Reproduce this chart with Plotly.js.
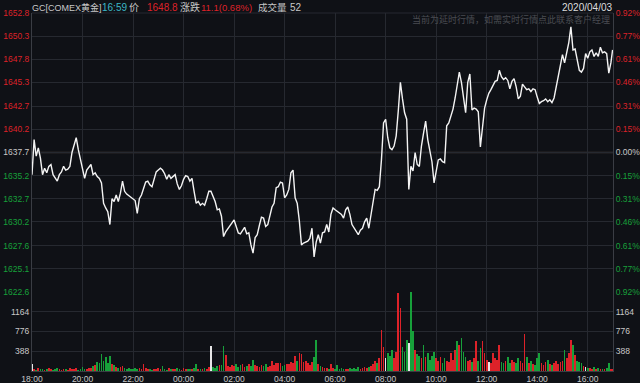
<!DOCTYPE html>
<html>
<head>
<meta charset="utf-8">
<script src="https://cdn.plot.ly/plotly-3.0.1.min.js"></script>
<style>
html,body{margin:0;padding:0;background:#0f1116;}
#chart{width:640px;height:383px;}
</style>
</head>
<body>
<div id="chart"></div>
<script>
// ---------- data ----------
const symbolName = 'GC[COMEX黄金]';
const quoteTime = '16:59';
const lastPrice = 1648.8;
const changeText = '11.1(0.68%)';
const lastVolume = 52;
const tradeDate = '2020/04/03';
const noticeText = '当前为延时行情，如需实时行情点此联系客户经理';
const prevClose = 1637.7;

const timeLabels = ['18:00','20:00','22:00','00:00','02:00','04:00','06:00','08:00','10:00','12:00','14:00','16:00'];
const priceTickLabels = ['1652.8','1650.3','1647.8','1645.3','1642.7','1640.2','1637.7','1635.2','1632.7','1630.2','1627.6','1625.1','1622.6'];
const pctTickLabels = ['0.92%','0.77%','0.61%','0.46%','0.31%','0.15%','0.00%','0.15%','0.31%','0.46%','0.61%','0.77%','0.92%'];
const volTickLabels = ['388','776','1164'];
const volMax = 1552;

// price sampled every 5 minutes from 18:00
const stepMinutes = 5;
const price = [
1635.3,1639.1,1637.3,1638.2,1637.1,1635.3,1636.0,1635.5,1636.2,1636.4,
1635.3,1634.9,1634.6,1635.3,1635.6,1636.2,1635.8,1635.9,1636.2,1637.7,
1638.4,1639.3,1638.0,1636.9,1636.2,1634.9,1635.8,1636.1,1636.4,1635.3,
1635.5,1635.1,1634.9,1634.4,1632.2,1631.7,1631.3,1629.9,1632.7,1632.4,
1633.1,1632.4,1633.3,1634.6,1633.5,1633.2,1633.0,1632.8,1632.7,1632.5,
1631.1,1632.7,1633.1,1633.7,1634.5,1634.6,1634.2,1634.0,1634.8,1635.6,
1635.8,1636.0,1635.8,1635.4,1634.8,1635.3,1634.9,1635.1,1635.3,1634.3,
1633.7,1634.1,1634.8,1635.2,1635.1,1634.6,1634.9,1633.5,1632.2,1632.4,
1632.0,1632.2,1632.0,1632.7,1633.5,1633.5,1633.0,1632.4,1631.5,1631.6,
1630.8,1628.6,1629.1,1629.4,1629.7,1630.1,1630.4,1629.7,1629.0,1628.9,
1629.3,1629.6,1628.9,1629.0,1627.7,1626.8,1628.5,1628.8,1629.8,1630.7,
1630.6,1629.7,1629.9,1630.9,1631.8,1632.2,1633.9,1634.0,1634.5,1634.4,
1632.8,1633.1,1633.7,1635.5,1635.8,1632.8,1632.2,1630.3,1627.7,1627.9,
1628.0,1628.1,1628.4,1629.5,1626.4,1628.0,1628.8,1627.9,1629.0,1629.1,
1629.9,1629.1,1631.0,1631.7,1631.5,1631.3,1631.1,1631.0,1630.6,1631.5,
1631.8,1631.0,1629.9,1629.5,1629.1,1628.8,1629.3,1629.5,1630.2,1630.6,
1629.5,1631.0,1632.6,1633.7,1633.6,1634.0,1636.9,1640.9,1641.3,1639.3,
1638.2,1638.0,1638.4,1639.5,1642.2,1645.3,1643.5,1642.0,1641.3,1633.7,
1636.2,1635.7,1637.7,1636.4,1636.2,1638.4,1639.8,1641.1,1639.1,1637.7,
1636.7,1634.4,1635.7,1636.9,1637.0,1636.7,1636.6,1640.6,1640.9,1641.7,
1642.4,1643.6,1644.9,1646.4,1645.3,1643.5,1642.0,1645.3,1646.2,1642.3,
1642.5,1642.4,1642.1,1638.3,1640.8,1642.5,1643.4,1644.1,1644.5,1644.9,
1645.4,1645.5,1646.6,1645.9,1645.6,1645.8,1645.5,1644.6,1645.4,1645.7,
1644.8,1643.5,1643.8,1645.1,1644.8,1644.5,1644.6,1644.3,1644.6,1644.5,
1643.7,1643.0,1643.2,1643.3,1643.5,1643.2,1643.4,1643.1,1643.6,1644.8,
1646.1,1647.4,1648.3,1647.4,1648.4,1649.6,1651.3,1648.8,1648.9,1647.7,
1646.6,1646.4,1646.8,1648.4,1647.9,1648.6,1648.8,1648.1,1648.5,1648.1,
1649.1,1648.5,1648.6,1648.4,1646.3,1647.4,1648.8
];

const volume = [
133,40,25,50,30,45,20,35,60,30,
25,40,55,30,20,45,35,25,60,40,
30,50,25,40,70,35,45,60,50,90,
120,180,150,333,200,280,160,293,147,110,
80,60,70,93,50,40,65,30,45,55,
35,60,40,147,50,30,45,25,40,35,
50,30,93,40,25,55,35,45,30,60,
40,25,50,35,45,30,40,55,147,35,
30,45,60,40,70,493,80,60,90,120,
110,493,313,100,80,120,90,140,70,110,
130,80,100,147,90,213,120,100,80,110,
90,130,70,100,200,120,150,160,150,90,
110,140,130,180,160,293,200,347,333,180,
200,150,120,170,267,613,140,100,80,60,
50,45,133,60,40,113,35,50,30,45,
40,60,35,50,45,70,40,55,80,60,
70,90,140,200,160,250,813,480,247,350,
300,420,250,380,1533,1247,480,380,613,547,
1550,780,413,330,300,250,513,280,350,220,
300,380,260,200,280,150,250,200,180,347,
220,413,580,513,647,380,280,200,213,180,
250,580,200,447,580,347,220,180,160,347,
250,213,513,180,150,200,280,160,220,180,
150,250,200,160,733,280,150,200,130,120,
247,347,150,120,180,213,140,110,160,200,
130,180,200,413,250,347,613,513,313,200,
180,150,100,80,60,50,40,70,35,50,
30,45,40,60,160,47,30
];

// bar colours for the notable bars
const flatBars = [0,85,168,179,217,263];
const downBars = [33,91,135,180,181,186,202,204,253];
const upBars = [125,127,128,166,174,175,211,214,222,234,256];

// ---------- styling ----------
const BG = '#0f1116';
const GRID = '#262930';
const AXIS = '#3a3d44';
const RED = '#dd2229';
const GREEN = '#17a03a';
const NEUTRAL = '#c8c8c8';
const FONT = '"Liberation Sans","Noto Sans CJK SC",sans-serif';
const CJK = '"Noto Sans CJK SC","Liberation Sans",sans-serif';

const lastMinute = 1379;
const times = price.map((_, i) => Math.min(i * stepMinutes, lastMinute));
const timeTickVals = timeLabels.map((_, k) => k * 120);
const priceTickVals = priceTickLabels.map(Number);

function priceColor(v) {
  if (Math.abs(v - prevClose) < 0.05) return NEUTRAL;
  return v > prevClose ? RED : GREEN;
}
const priceTickText = priceTickLabels.map(t => `<span style="color:${priceColor(Number(t))}">${t}</span>`);
const pctTickText = pctTickLabels.map((t, k) => `<span style="color:${priceColor(priceTickVals[k])}">${t}</span>`);

const barColors = volume.map((_, i) => {
  if (flatBars.includes(i)) return '#e6e6e6';
  if (downBars.includes(i)) return GREEN;
  if (upBars.includes(i)) return RED;
  if (i === 0) return RED;
  return price[i] >= price[i - 1] ? RED : GREEN;
});

const traces = [
  {
    type: 'bar', x: times, y: volume, xaxis: 'x', yaxis: 'y2',
    width: 4, marker: {color: barColors, line: {width: 0}},
    hoverinfo: 'skip', showlegend: false
  },
  {
    type: 'scatter', mode: 'lines', x: times, y: price, xaxis: 'x', yaxis: 'y',
    line: {color: '#f4f4f4', width: 1.4}, hoverinfo: 'skip', showlegend: false
  },
  {
    type: 'scatter', mode: 'lines', x: [0, lastMinute], y: [prevClose, prevClose], xaxis: 'x', yaxis: 'y3',
    line: {color: 'rgba(0,0,0,0)', width: 0}, hoverinfo: 'skip', showlegend: false
  },
  {
    type: 'scatter', mode: 'lines', x: [0, lastMinute], y: [0, 0], xaxis: 'x', yaxis: 'y4',
    line: {color: 'rgba(0,0,0,0)', width: 0}, hoverinfo: 'skip', showlegend: false
  }
];

const L = 32, R = 613, T = 13, B = 371;
const px2x = p => (p - L) / (R - L);
const px2y = p => (B - p) / (B - T);
const split = px2y(292);
const tickFont = {family: FONT, size: 8.5, color: NEUTRAL};

const header = [
  {t: symbolName, x: 31, c: NEUTRAL, s: 9},
  {t: quoteTime, x: 101, c: '#3cb6c6', s: 10},
  {t: '价', x: 128, c: NEUTRAL, s: 10},
  {t: String(lastPrice), x: 146, c: RED, s: 10},
  {t: '涨跌', x: 179, c: NEUTRAL, s: 10},
  {t: changeText, x: 200, c: RED, s: 9.5},
  {t: '成交量', x: 257, c: NEUTRAL, s: 9.5},
  {t: String(lastVolume), x: 289, c: NEUTRAL, s: 10}
];
const annotations = header.map(h => ({
  text: h.t, xref: 'paper', yref: 'paper', x: px2x(h.x), y: px2y(7),
  xanchor: 'left', yanchor: 'middle', showarrow: false, borderpad: 0,
  font: {family: FONT, size: h.s, color: h.c}
}));
annotations.push({
  text: tradeDate, xref: 'paper', yref: 'paper', x: 1, y: px2y(7),
  xanchor: 'right', yanchor: 'middle', showarrow: false, borderpad: 0,
  font: {family: FONT, size: 10, color: '#dddddd'}
});
annotations.push({
  text: noticeText, xref: 'paper', yref: 'paper', x: px2x(611), y: px2y(20),
  xanchor: 'right', yanchor: 'middle', showarrow: false, borderpad: 0,
  font: {family: CJK, size: 9, color: '#4a4c52'}
});

const layout = {
  width: 640, height: 383,
  margin: {l: L, r: 640 - R, t: T, b: 383 - B, pad: 0},
  paper_bgcolor: BG, plot_bgcolor: BG,
  showlegend: false, bargap: 0,
  font: {family: FONT, size: 9, color: NEUTRAL},
  xaxis: {
    range: [0, 1380], anchor: 'y2', tickvals: timeTickVals, ticktext: timeLabels,
    showgrid: true, gridcolor: GRID, gridwidth: 1, zeroline: false,
    showline: true, linecolor: AXIS, linewidth: 1, ticks: '', tickfont: tickFont,
    automargin: false, fixedrange: true
  },
  yaxis: {
    domain: [split, 1], range: [1622.6, 1652.8], anchor: 'x', side: 'left',
    tickvals: priceTickVals, ticktext: priceTickText, showgrid: true, gridcolor: GRID,
    zeroline: false, showline: true, linecolor: AXIS, ticks: '', tickfont: tickFont,
    automargin: false, fixedrange: true
  },
  yaxis3: {
    overlaying: 'y', range: [1622.6, 1652.8], anchor: 'x', side: 'right',
    tickvals: priceTickVals, ticktext: pctTickText, showgrid: false,
    zeroline: false, showline: true, linecolor: AXIS, ticks: '', tickfont: tickFont,
    automargin: false, fixedrange: true
  },
  yaxis2: {
    domain: [0, split], range: [0, volMax], anchor: 'x', side: 'left',
    tickvals: volTickLabels.map(Number), ticktext: volTickLabels, showgrid: true, gridcolor: GRID,
    zeroline: false, showline: true, linecolor: AXIS, ticks: '', tickfont: tickFont,
    automargin: false, fixedrange: true
  },
  yaxis4: {
    overlaying: 'y2', range: [0, volMax], anchor: 'x', side: 'right',
    tickvals: volTickLabels.map(Number), ticktext: volTickLabels, showgrid: false,
    zeroline: false, showline: true, linecolor: AXIS, ticks: '', tickfont: tickFont,
    automargin: false, fixedrange: true
  },
  shapes: [
    {type: 'line', xref: 'paper', yref: 'y', x0: 0, x1: 1, y0: prevClose, y1: prevClose,
     line: {color: '#463e3a', width: 1.5}, layer: 'below'},
    {type: 'line', xref: 'paper', yref: 'paper', x0: 0, x1: 1, y0: 1, y1: 1,
     line: {color: GRID, width: 1}, layer: 'below'}
  ],
  annotations: annotations
};

Plotly.newPlot('chart', traces, layout, {displayModeBar: false, staticPlot: true});
</script>
</body>
</html>
